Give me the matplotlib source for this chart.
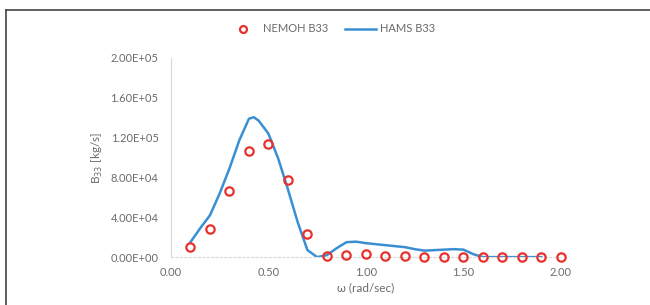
import matplotlib.pyplot as plt
from matplotlib.lines import Line2D

omega_nemoh = [0.1, 0.2, 0.3, 0.4, 0.5, 0.6, 0.7, 0.8, 0.9, 1.0,
               1.1, 1.2, 1.3, 1.4, 1.5, 1.6, 1.7, 1.8, 1.9, 2.0]
b33_nemoh = [10000, 28000, 66000, 107000, 114000, 77000, 23000, 800, 2500, 3000,
             800, 1000, 0, 0, 0, 0, 0, 0, 0, 0]

omega_hams = [0.10, 0.15, 0.20, 0.25, 0.30, 0.35, 0.40, 0.425, 0.45, 0.50, 0.55,
              0.60, 0.65, 0.70, 0.75, 0.80, 0.85, 0.90, 0.95, 1.00, 1.05,
              1.10, 1.15, 1.20, 1.25, 1.30, 1.35, 1.40, 1.45, 1.50, 1.55,
              1.60, 1.65, 1.70, 1.75, 1.80, 1.85, 1.90]
b33_hams = [15000, 29000, 42000, 64000, 89000, 117000, 139000, 140500, 137000, 124000, 99000,
            68000, 35000, 7000, 0, 2000, 9000, 15000, 15500, 14000, 13000,
            12000, 11000, 10000, 8000, 6500, 7000, 7500, 8000, 7500, 3000,
            0, 0, 0, 0, 0, 0, 0]

x_ticks = [0.0, 0.5, 1.0, 1.5, 2.0]
y_ticks = [0, 40000, 80000, 120000, 160000, 200000]
y_tick_labels = ['0.00E+00', '4.00E+04', '8.00E+04', '1.20E+05', '1.60E+05', '2.00E+05']

plt.rcParams['font.family'] = ['Lato', 'DejaVu Sans']
grey = '#6b6b6b'
red = '#e8302c'
blue = '#3a8fd3'

fig = plt.figure(figsize=(6.5, 3.05), dpi=100)
ax = fig.add_axes([0.263, 0.157, 0.6, 0.653])

ax.plot(omega_hams, b33_hams, color=blue, lw=1.8, zorder=2,
        solid_joinstyle='round')
ax.plot(omega_nemoh, b33_nemoh, 'o', ms=6, mfc='none', mec=red, mew=1.6,
        clip_on=False, zorder=3)

ax.set_xlim(0, 2.0)
ax.set_ylim(0, 200000)
ax.set_xticks(x_ticks)
ax.set_xticklabels(['%.2f' % v for v in x_ticks])
ax.set_yticks(y_ticks)
ax.set_yticklabels(y_tick_labels)
ax.tick_params(length=0, labelsize=8, colors=grey)
ax.tick_params(axis='y', pad=9)
ax.tick_params(axis='x', pad=7)

for s in ['top', 'right']:
    ax.spines[s].set_visible(False)
ax.spines['left'].set_color('#d9d9d9')
ax.spines['bottom'].set_color('#d9d9d9')
ax.spines['bottom'].set_linestyle((0, (2, 2)))

ax.set_xlabel('ω (rad/sec)', fontsize=8.5, color=grey, labelpad=3)
ax.set_ylabel('B$_{33}$ [kg/s]', fontsize=8.5, color=grey, labelpad=4)

handles = [Line2D([], [], ls='none', marker='o', ms=5, mfc='none', mec=red, mew=1.6),
           Line2D([], [], color=blue, lw=1.8)]
fig.legend(handles, ['NEMOH B33', 'HAMS B33'], loc='center', bbox_to_anchor=(0.51, 0.905),
           ncol=2, frameon=False, fontsize=8, labelcolor=grey, handlelength=2.8,
           columnspacing=1.5, handletextpad=0.4)

fig.add_artist(Line2D([6 / 650, 1], [1 - 10 / 305] * 2, color='#444444', lw=1.2))
fig.add_artist(Line2D([6 / 650] * 2, [0, 1 - 10 / 305], color='#444444', lw=1.2))

fig.savefig('out.png', dpi=100)
